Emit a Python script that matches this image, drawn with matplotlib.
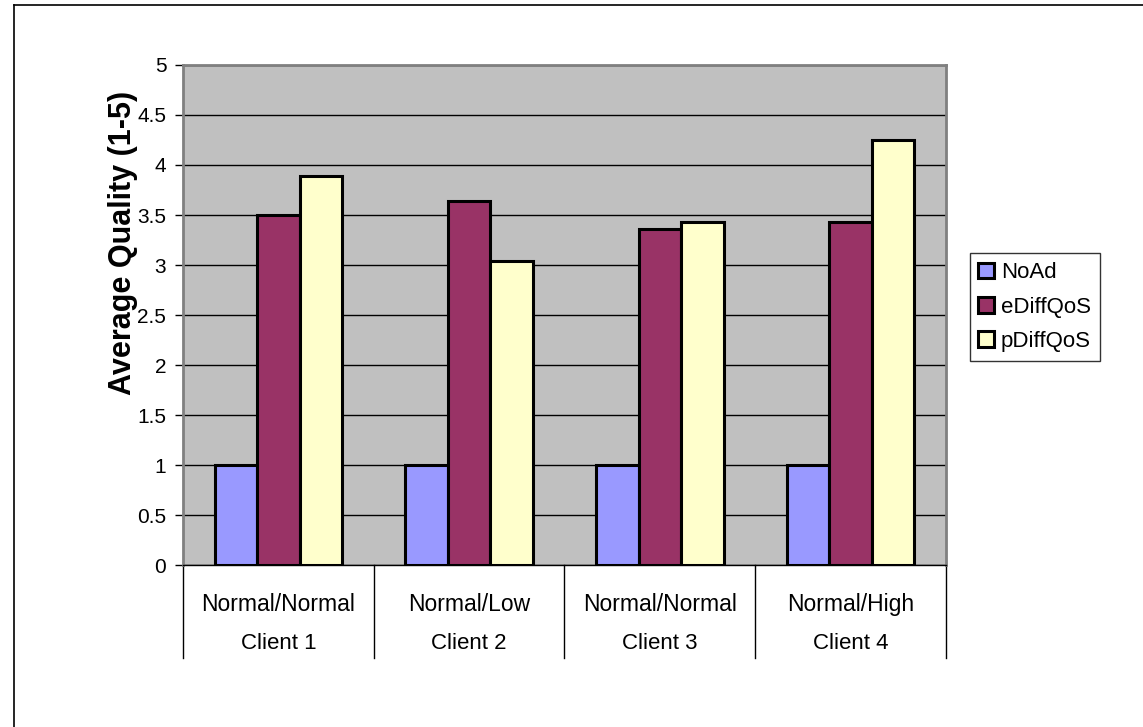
import numpy as np
import matplotlib
matplotlib.use("Agg")
import matplotlib.pyplot as plt
from matplotlib.lines import Line2D

plt.rcParams['font.family'] = ['Liberation Sans', 'DejaVu Sans']

clients = ["Client 1", "Client 2", "Client 3", "Client 4"]
settings = ["Normal/Normal", "Normal/Low", "Normal/Normal", "Normal/High"]
series = ["NoAd", "eDiffQoS", "pDiffQoS"]
noad = [1.0, 1.0, 1.0, 1.0]
ediff = [3.5, 3.64, 3.36, 3.43]
pdiff = [3.89, 3.04, 3.43, 4.25]
colors = ["#9999FF", "#993366", "#FFFFCC"]

fig = plt.figure(figsize=(11.43, 7.27), dpi=100)
ax = fig.add_axes([0.1601, 0.2228, 0.6675, 0.6878])
ax.set_facecolor("#C0C0C0")

x = np.arange(len(clients))
w = 0.223
for i, (vals, c, name) in enumerate(zip([noad, ediff, pdiff], colors, series)):
    ax.bar(x + (i - 1) * w, vals, w, color=c, edgecolor="black",
           linewidth=2.2, label=name, zorder=3)

ax.set_xlim(-0.5, len(clients) - 0.5)
ax.set_ylim(0, 5)
ax.set_yticks(np.arange(0, 5.01, 0.5))
ax.set_yticklabels(["0", "0.5", "1", "1.5", "2", "2.5", "3", "3.5", "4", "4.5", "5"])
ax.yaxis.grid(True, color="black", linewidth=1.0, zorder=1)
ax.set_axisbelow(True)
ax.tick_params(axis="y", direction="out", length=6, width=1, labelsize=15, pad=6)
ax.set_xticks([])

for s in ["top", "right", "left"]:
    ax.spines[s].set_color("#808080")
    ax.spines[s].set_linewidth(2)
ax.spines["bottom"].set_color("black")
ax.spines["bottom"].set_linewidth(1)

# two-level category axis below the plot
tr = ax.get_xaxis_transform()
for b in np.arange(-0.5, len(clients), 1.0):
    ax.add_line(Line2D([b, b], [0, -0.186], transform=tr, color="black",
                       linewidth=1, clip_on=False))
for xi, st, cl in zip(x, settings, clients):
    ax.text(xi, -0.078, st, transform=tr, ha="center", va="center", fontsize=16.5)
    ax.text(xi, -0.157, cl, transform=tr, ha="center", va="center", fontsize=16)

fig.text(0.108, 1 - 243 / 727, "Average Quality (1-5)", rotation=90,
         ha="center", va="center", fontsize=22, fontweight="bold")

leg = ax.legend(loc="center left", bbox_to_anchor=(1.031, 0.516), fontsize=16,
                frameon=True, fancybox=False, handlelength=0.7, handleheight=0.7,
                handletextpad=0.3, labelspacing=0.6, borderpad=0.4,
                borderaxespad=0)
leg.get_frame().set_edgecolor("black")
leg.get_frame().set_linewidth(1)

# border lines of the chart area
fig.add_artist(Line2D([14 / 1143, 14 / 1143], [0, 1 - 5 / 727], color="black", linewidth=1.2))
fig.add_artist(Line2D([14 / 1143, 1], [1 - 5 / 727, 1 - 5 / 727], color="black", linewidth=1.2))

fig.savefig("out.png", dpi=100)
